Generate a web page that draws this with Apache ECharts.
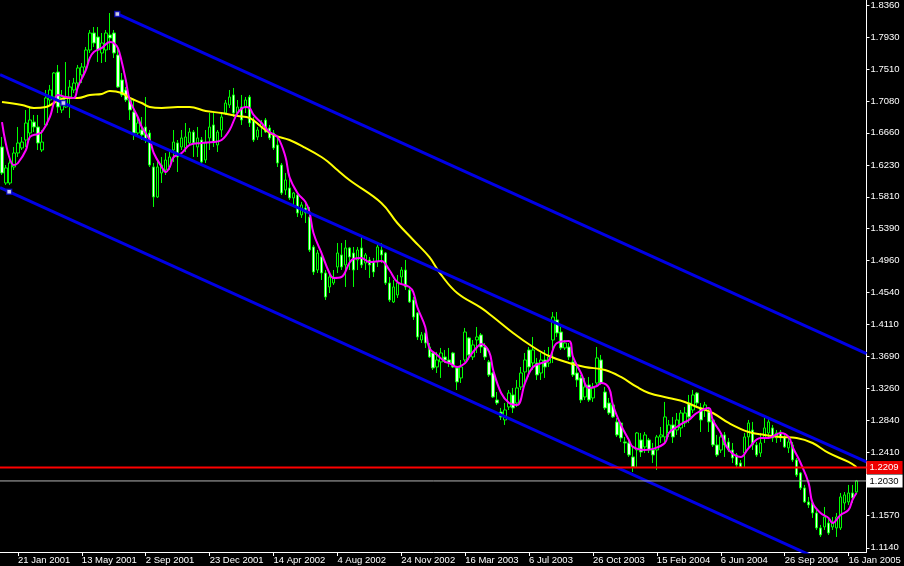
<!DOCTYPE html>
<html>
<head>
<meta charset="utf-8">
<script src="https://cdn.jsdelivr.net/npm/echarts@6/dist/echarts.min.js"></script>
<style>
html,body{margin:0;padding:0;background:#000;}
#chart{width:904px;height:566px;}
</style>
</head>
<body>
<div id="chart"></div>
<script>
// Weekly bars, first bar = week of 24 Dec 2000
const firstWeekUTC = Date.UTC(2000, 11, 24);
const barCount = 217; // category slots (last two empty, chart shift)
const monthNames = ['Jan','Feb','Mar','Apr','May','Jun','Jul','Aug','Sep','Oct','Nov','Dec'];

const opens = [1.6472,1.5993,1.5993,1.6206,1.6392,1.6459,1.6565,1.6658,1.6804,1.6738,1.6432,1.6765,1.7097,1.7137,1.7469,1.6964,1.7004,1.7137,1.7230,1.7323,
1.7430,1.7536,1.7762,1.7988,1.7935,1.7722,1.7762,1.7962,1.7988,1.7696,1.7363,1.7230,1.7097,1.6937,1.6658,1.6698,1.6738,1.6658,1.6206,1.5807,
1.6126,1.6166,1.6206,1.6432,1.6525,1.6472,1.6459,1.6525,1.6671,1.6472,1.6565,1.6299,1.6592,1.6765,1.6499,1.6698,1.6924,1.7031,1.7164,1.6924,
1.7004,1.7004,1.7137,1.6831,1.6605,1.6738,1.6831,1.6725,1.6658,1.6499,1.6232,1.5900,1.5927,1.5794,1.5834,1.5568,1.5661,1.5541,1.5142,1.4836,
1.5009,1.4796,1.4610,1.4663,1.4876,1.5036,1.4903,1.5129,1.5062,1.4969,1.5129,1.4929,1.4969,1.4943,1.4943,1.5102,1.5062,1.4663,1.4411,1.4504,
1.4743,1.4836,1.4570,1.4437,1.4264,1.3905,1.3998,1.3812,1.3732,1.3546,1.3613,1.3679,1.3639,1.3732,1.3533,1.3400,1.3639,1.3932,1.3679,1.3905,
1.3972,1.3812,1.3613,1.3466,1.3107,1.2947,1.2841,1.3014,1.3174,1.3067,1.3280,1.3480,1.3772,1.3599,1.3599,1.3466,1.3639,1.3599,1.3905,1.4171,
1.4011,1.3799,1.3812,1.3613,1.3466,1.3400,1.3147,1.3307,1.3134,1.3333,1.3639,1.3213,1.3067,1.3041,1.2815,1.2801,1.2549,1.2535,1.2349,1.2442,
1.2575,1.2482,1.2575,1.2442,1.2442,1.2615,1.2615,1.2668,1.2775,1.2708,1.2735,1.2801,1.3067,1.2974,1.3200,1.3001,1.2974,1.2947,1.2841,1.2509,
1.2442,1.2642,1.2549,1.2442,1.2376,1.2269,1.2402,1.2615,1.2708,1.2509,1.2402,1.2602,1.2668,1.2735,1.2602,1.2681,1.2615,1.2469,1.2509,1.2309,
1.2136,1.1937,1.1751,1.1737,1.1604,1.1405,1.1418,1.1471,1.1418,1.1405,1.1405,1.1737,1.1751,1.1870,1.1883];

const closes = [1.6126,1.6193,1.6259,1.6392,1.6525,1.6538,1.6791,1.6831,1.6738,1.6525,1.6538,1.7124,1.7230,1.7456,1.7004,1.7137,1.7137,1.7270,1.7323,1.7523,
1.7536,1.7762,1.7988,1.7855,1.7762,1.7855,1.7988,1.7922,1.7722,1.7270,1.7164,1.7097,1.6964,1.6658,1.6791,1.6632,1.6565,1.6232,1.5807,1.6206,
1.6232,1.6299,1.6339,1.6538,1.6339,1.6592,1.6605,1.6671,1.6525,1.6592,1.6272,1.6538,1.6738,1.6538,1.6671,1.6871,1.7057,1.7137,1.6924,1.7004,
1.6831,1.7097,1.6791,1.6565,1.6698,1.6791,1.6671,1.6592,1.6459,1.6259,1.5860,1.6033,1.5794,1.5860,1.5594,1.5701,1.5594,1.5102,1.4809,1.5062,
1.4796,1.4477,1.4743,1.4730,1.5062,1.4876,1.5129,1.5009,1.4836,1.5102,1.4903,1.5036,1.4903,1.4809,1.5142,1.5036,1.4663,1.4437,1.4610,1.4663,
1.4836,1.4610,1.4411,1.4211,1.3945,1.3972,1.3865,1.3679,1.3533,1.3639,1.3732,1.3639,1.3599,1.3546,1.3347,1.3546,1.4011,1.3706,1.3839,1.3945,
1.3812,1.3679,1.3440,1.3147,1.3067,1.2881,1.2974,1.3200,1.3001,1.3267,1.3466,1.3639,1.3546,1.3772,1.3440,1.3639,1.3546,1.3679,1.4211,1.3998,
1.3799,1.3865,1.3679,1.3440,1.3373,1.3107,1.3280,1.3107,1.3267,1.3666,1.3333,1.3001,1.2934,1.2881,1.2642,1.2602,1.2535,1.2376,1.2216,1.2668,
1.2415,1.2642,1.2442,1.2376,1.2615,1.2642,1.2881,1.2775,1.2615,1.2841,1.2934,1.2934,1.2881,1.3174,1.3067,1.2841,1.3041,1.2815,1.2509,1.2376,
1.2615,1.2509,1.2442,1.2336,1.2243,1.2216,1.2615,1.2801,1.2509,1.2376,1.2535,1.2735,1.2815,1.2602,1.2668,1.2602,1.2482,1.2549,1.2309,1.2110,
1.1937,1.1751,1.1711,1.1604,1.1405,1.1312,1.1551,1.1338,1.1471,1.1551,1.1817,1.1844,1.1870,1.1804,1.2030];

const lows = [1.6100,1.5967,1.5967,1.6166,1.6339,1.6432,1.6472,1.6565,1.6671,1.6432,1.6405,1.6738,1.7031,1.7097,1.6924,1.6924,1.6991,1.6858,1.7190,1.7270,
1.7323,1.7469,1.7722,1.7802,1.7602,1.7589,1.7602,1.7762,1.7656,1.7257,1.7137,1.7070,1.6831,1.6565,1.6605,1.6565,1.6525,1.6206,1.5674,1.5794,
1.5993,1.6100,1.6166,1.6272,1.6139,1.6432,1.6405,1.6499,1.6339,1.6339,1.6259,1.6259,1.6432,1.6472,1.6405,1.6605,1.6898,1.6991,1.6871,1.6871,
1.6765,1.6924,1.6738,1.6538,1.6565,1.6605,1.6658,1.6565,1.6432,1.6206,1.5834,1.5834,1.5767,1.5674,1.5541,1.5528,1.5461,1.5075,1.4770,1.4796,
1.4703,1.4437,1.4530,1.4637,1.4796,1.4836,1.4610,1.4836,1.4610,1.4836,1.4863,1.4836,1.4730,1.4743,1.4876,1.4929,1.4637,1.4411,1.4397,1.4464,
1.4637,1.4570,1.4397,1.4171,1.3905,1.3865,1.3799,1.3666,1.3506,1.3466,1.3400,1.3599,1.3546,1.3533,1.3240,1.3333,1.3613,1.3639,1.3639,1.3732,
1.3732,1.3639,1.3413,1.3134,1.3041,1.2841,1.2775,1.2974,1.2934,1.3014,1.3240,1.3333,1.3413,1.3506,1.3373,1.3373,1.3400,1.3546,1.3599,1.3945,
1.3772,1.3772,1.3639,1.3413,1.3280,1.3067,1.3107,1.3081,1.3081,1.3307,1.3307,1.2974,1.2908,1.2868,1.2615,1.2549,1.2402,1.2349,1.2149,1.2216,
1.2349,1.2402,1.2402,1.2269,1.2176,1.2535,1.2535,1.2615,1.2535,1.2642,1.2615,1.2748,1.2801,1.2934,1.3014,1.2681,1.2881,1.2681,1.2482,1.2349,
1.2402,1.2349,1.2415,1.2269,1.2203,1.2203,1.2216,1.2482,1.2442,1.2349,1.2349,1.2535,1.2615,1.2549,1.2535,1.2549,1.2469,1.2402,1.2283,1.2083,
1.1910,1.1737,1.1671,1.1538,1.1378,1.1285,1.1378,1.1312,1.1378,1.1285,1.1378,1.1644,1.1711,1.1737,1.1870];

const highs = [1.6605,1.6232,1.6339,1.6472,1.6738,1.6605,1.6964,1.6991,1.6898,1.6898,1.6698,1.7230,1.7297,1.7469,1.7563,1.7230,1.7602,1.7363,1.7390,1.7563,
1.7589,1.7802,1.8028,1.8068,1.8068,1.7988,1.8028,1.8254,1.8028,1.7802,1.7456,1.7270,1.7137,1.7097,1.6858,1.6871,1.7137,1.6698,1.6259,1.6299,
1.6339,1.6392,1.6432,1.6698,1.6565,1.6698,1.6791,1.6725,1.6698,1.6738,1.6605,1.6698,1.6924,1.6924,1.6698,1.6924,1.7097,1.7230,1.7257,1.7097,
1.7164,1.7137,1.7164,1.6871,1.6738,1.6831,1.6858,1.6765,1.6698,1.6605,1.6259,1.6126,1.6100,1.5874,1.5860,1.5741,1.5728,1.5674,1.5169,1.5102,
1.5062,1.4836,1.4796,1.4836,1.5195,1.5195,1.5235,1.5142,1.5142,1.5142,1.5302,1.5062,1.5009,1.4996,1.5169,1.5195,1.5075,1.4743,1.4703,1.4770,
1.4876,1.4969,1.4610,1.4477,1.4277,1.4011,1.4078,1.3865,1.3746,1.3746,1.3799,1.3772,1.3799,1.3746,1.3546,1.3639,1.4065,1.3945,1.3905,1.4078,
1.3998,1.3865,1.3639,1.3480,1.3213,1.3001,1.3067,1.3240,1.3267,1.3373,1.3546,1.3732,1.3812,1.3945,1.3666,1.3732,1.3772,1.3812,1.4277,1.4277,
1.4078,1.3905,1.3865,1.3679,1.3573,1.3440,1.3400,1.3413,1.3333,1.3812,1.3706,1.3280,1.3134,1.3067,1.2868,1.2815,1.2615,1.2575,1.2482,1.2681,
1.2668,1.2681,1.2602,1.2535,1.2642,1.2748,1.3081,1.2841,1.2881,1.2934,1.2974,1.3014,1.3174,1.3240,1.3213,1.3067,1.3081,1.3001,1.2881,1.2642,
1.2642,1.2681,1.2602,1.2535,1.2402,1.2309,1.2668,1.2841,1.2815,1.2549,1.2668,1.2868,1.2868,1.2775,1.2708,1.2708,1.2642,1.2615,1.2549,1.2336,
1.2149,1.1977,1.1817,1.1751,1.1644,1.1445,1.1684,1.1538,1.1551,1.1604,1.1870,1.1883,1.1977,1.1977,1.2043];

// Short moving average (magenta), [bar index, value]
const maFast = [[0,1.6804],[3,1.6232],[4,1.6259],[6,1.6432],[7,1.6605],[9,1.6645],[10,1.6671],[12,1.6871],[13,1.7057],[14,1.7164],[16,1.7137],[18,1.7124],
[19,1.7270],[21,1.7496],[22,1.7656],[23,1.7735],[25,1.7789],[27,1.7868],[28,1.7855],[29,1.7789],[30,1.7602],[31,1.7363],[32,1.7097],[34,1.6871],
[35,1.6738],[37,1.6565],[38,1.6392],[40,1.6206],[41,1.6139],[42,1.6206],[43,1.6339],[45,1.6392],[47,1.6499],[50,1.6525],[53,1.6538],[55,1.6565],
[57,1.6698],[59,1.6924],[61,1.7004],[62,1.6991],[63,1.6898],[65,1.6791],[67,1.6671],[69,1.6605],[71,1.6339],[72,1.6073],[74,1.5860],[76,1.5741],
[77,1.5607],[78,1.5328],[80,1.5062],[82,1.4796],[83,1.4730],[85,1.4743],[87,1.4929],[88,1.4982],[90,1.4996],[92,1.4943],[95,1.4956],[97,1.4836],
[99,1.4676],[102,1.4610],[103,1.4543],[104,1.4344],[106,1.4078],[107,1.3799],[109,1.3706],[111,1.3613],[112,1.3599],[114,1.3546],[116,1.3599],
[117,1.3679],[119,1.3812],[120,1.3852],[122,1.3746],[123,1.3506],[125,1.3200],[127,1.3067],[129,1.3041],[131,1.3333],[133,1.3546],[136,1.3613],
[137,1.3639],[139,1.3865],[142,1.3892],[143,1.3679],[145,1.3466],[147,1.3267],[149,1.3293],[150,1.3333],[152,1.3267],[153,1.3041],[155,1.2775],
[157,1.2575],[158,1.2482],[161,1.2442],[163,1.2456],[166,1.2535],[167,1.2668],[169,1.2748],[171,1.2815],[172,1.2841],[174,1.2934],[177,1.3001],
[178,1.2841],[180,1.2668],[182,1.2442],[185,1.2349],[187,1.2469],[190,1.2602],[192,1.2602],[195,1.2668],[197,1.2615],[198,1.2482],[200,1.2269],
[202,1.2003],[203,1.1737],[205,1.1604],[207,1.1538],[208,1.1471],[210,1.1578],[212,1.1644],[213,1.1779],[214,1.1870]];

// Long moving average (yellow), [bar index, value]
const maSlow = [[0,1.7070],[5,1.7031],[8,1.6991],[11,1.7004],[13,1.7057],[16,1.7124],[19,1.7124],[22,1.7164],[25,1.7177],[27,1.7217],[30,1.7190],
[32,1.7124],[35,1.7057],[37,1.7004],[40,1.6991],[44,1.7004],[47,1.7004],[51,1.6951],[55,1.6924],[59,1.6884],[62,1.6858],[65,1.6738],[68,1.6632],
[72,1.6565],[76,1.6459],[80,1.6339],[82,1.6259],[84,1.6166],[87,1.6033],[95,1.5728],[99,1.5461],[103,1.5235],[107,1.5009],[110,1.4770],[114,1.4530],
[120,1.4331],[123,1.4211],[128,1.3998],[133,1.3812],[137,1.3692],[142,1.3599],[146,1.3546],[151,1.3506],[155,1.3413],[159,1.3280],[162,1.3200],
[167,1.3134],[171,1.3081],[174,1.3014],[178,1.2934],[182,1.2801],[187,1.2681],[191,1.2642],[195,1.2615],[199,1.2602],[203,1.2535],[207,1.2402],
[212,1.2283],[214,1.2216]];

// Drawn trend / channel lines: [bar index, price]
const channelTop = [[28.875,1.8241],[216.5,1.3723]];
const channelMid = [[-0.5,1.7434],[216.5,1.2285]];
const channelBot = [[-0.5,1.5933],[216.5,1.0704]];
const channelAnchors = [[28.875,1.8241],[15.375,1.7057],[1.8,1.5877]];

const levelRed = 1.2209;
const levelBid = 1.2030;

const yTicks = [1.8360,1.7930,1.7510,1.7080,1.6660,1.6230,1.5810,1.5390,1.4960,1.4540,1.4110,1.3690,1.3260,1.2840,1.2410,1.1990,1.1570,1.1140];

const categories = [];
for (let i = 0; i < barCount; i++) {
  const d = new Date(firstWeekUTC + i * 7 * 86400000);
  categories.push(d.getUTCDate() + ' ' + monthNames[d.getUTCMonth()] + ' ' + d.getUTCFullYear());
}
const candleData = opens.map((o, i) => [o, closes[i], lows[i], highs[i]]);
const labelPick = (idx) => idx >= 4 && (idx - 4) % 16 === 0;

const chart = echarts.init(document.getElementById('chart'));
const FONT = 'Liberation Sans';
const levelLine = (value, color, width, boxColor, textColor, z) => ({
  type: 'line', xAxisIndex: 1, data: [[-0.5, value], [216.5, value]], showSymbol: false, z: z, silent: true,
  lineStyle: { color: color, width: width },
  endLabel: { show: true, formatter: value.toFixed(4), color: textColor, backgroundColor: boxColor,
    fontFamily: FONT, fontSize: 9.5, padding: [2, 4, 1, 3], distance: 0 }
});

chart.setOption({
  backgroundColor: '#000000',
  animation: false,
  grid: { left: -1.5, top: 0, width: 868, height: 552, containLabel: false },
  xAxis: [
    {
      type: 'category', data: categories, boundaryGap: true,
      axisLine: { show: true, onZero: false, lineStyle: { color: '#ffffff', width: 1 } },
      axisTick: { show: true, interval: labelPick, alignWithLabel: true, length: 4, lineStyle: { color: '#ffffff' } },
      axisLabel: { interval: labelPick, color: '#ffffff', fontFamily: FONT, fontSize: 9.5, align: 'left', margin: 3 },
      splitLine: { show: false }
    },
    { type: 'value', min: -0.5, max: 216.5, show: false, gridIndex: 0,
      axisLine: { show: false, onZero: false }, axisTick: { show: false }, axisLabel: { show: false }, splitLine: { show: false } }
  ],
  yAxis: {
    type: 'value', position: 'right', min: 1.1085, max: 1.8427, scale: true,
    axisLine: { show: true, onZero: false, lineStyle: { color: '#ffffff', width: 1 } },
    axisTick: { show: true, length: 3, inside: false, customValues: yTicks, lineStyle: { color: '#ffffff' } },
    axisLabel: { color: '#ffffff', fontFamily: FONT, fontSize: 9.5, margin: 4, customValues: yTicks, formatter: v => v.toFixed(4) },
    splitLine: { show: false }
  },
  series: [
    {
      type: 'candlestick', data: candleData, xAxisIndex: 0, barWidth: 3, z: 2,
      itemStyle: { color: '#000000', color0: '#e8ffe8', borderColor: '#00ff00', borderColor0: '#00ff00', borderWidth: 1 },
      emphasis: { disabled: true }
    },
    {
      type: 'line', xAxisIndex: 1, data: maSlow, smooth: 0.4, showSymbol: false, z: 3,
      lineStyle: { color: '#ffff00', width: 2 }
    },
    {
      type: 'line', xAxisIndex: 1, data: maFast, smooth: 0.4, showSymbol: false, z: 4,
      lineStyle: { color: '#ff00ff', width: 2 }
    },
    {
      type: 'line', xAxisIndex: 1, data: channelTop, showSymbol: false, z: 5,
      lineStyle: { color: '#0000e6', width: 3 }
    },
    {
      type: 'line', xAxisIndex: 1, data: channelMid, showSymbol: false, z: 5,
      lineStyle: { color: '#0000e6', width: 3 }
    },
    {
      type: 'line', xAxisIndex: 1, data: channelBot, showSymbol: false, z: 5, clip: true,
      lineStyle: { color: '#0000e6', width: 3 }
    },
    {
      type: 'scatter', xAxisIndex: 1, data: channelAnchors, symbol: 'rect', symbolSize: 5, z: 6,
      itemStyle: { color: '#ffffff', borderColor: '#0000c0', borderWidth: 1.5 }
    },
    levelLine(levelBid, '#b4b4b4', 1, '#ffffff', '#000000', 7),
    levelLine(levelRed, '#ff0000', 2, '#ee0000', '#ffffff', 8)
  ]
});
</script>
</body>
</html>
